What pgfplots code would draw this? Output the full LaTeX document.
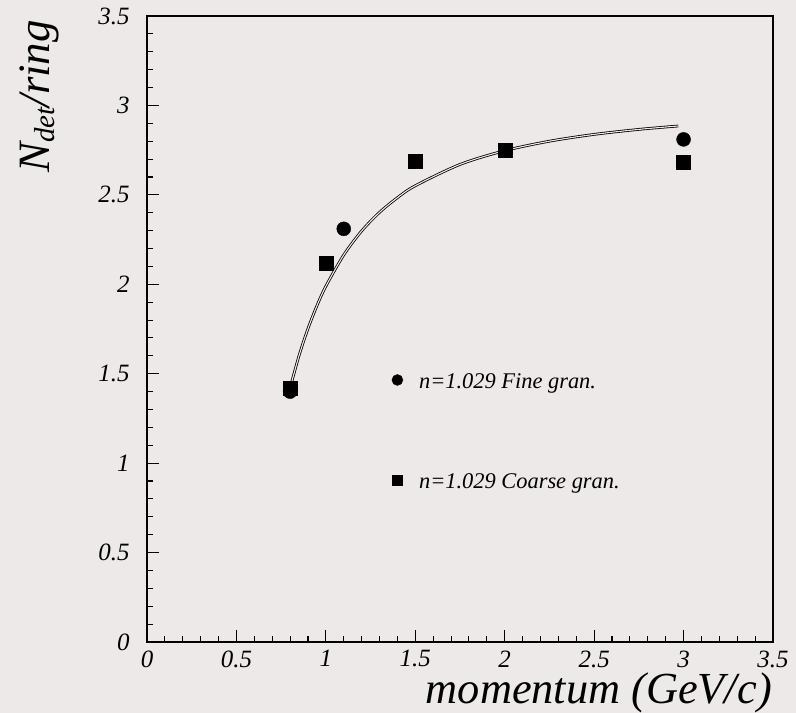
\documentclass[border=0pt]{standalone}
\usepackage{fontspec}
\setmainfont{Liberation Serif}
\usepackage{pgfplots}
\pgfplotsset{compat=1.18}
\definecolor{bg}{RGB}{236,233,232}

% fitted saturation curve N = A (1 - c/p^2), tabulated
\begin{document}
\begin{tikzpicture}
\fill[bg] (-147bp,-71bp) rectangle (649bp,642bp);
\begin{axis}[
  at={(0,0)}, anchor=south west,
  scale only axis, width=626bp, height=626bp,
  xmin=0, xmax=3.5, ymin=0, ymax=3.5,
  xtick={0,0.5,1,1.5,2,2.5,3,3.5},
  ytick={0,0.5,1,1.5,2,2.5,3,3.5},
  minor tick num=4,
  tick pos=left, tick align=inside,
  major tick length=12bp, minor tick length=6bp,
  axis line style={line width=1.6bp},
  every tick/.style={line width=1.1bp, black},
  ticklabel style={font=\fontsize{25}{30}\selectfont\itshape},
  /pgf/number format/assume math mode=true,
  xticklabel style={yshift=-5bp},
  yticklabel style={xshift=-14bp},
  clip=false,
]
% fit curve
\addplot[black, line width=0.8bp, double=bg, double distance=1.1bp, smooth]
  coordinates {
  (0.80,1.420) (0.85,1.601) (0.90,1.752) (0.95,1.880) (1.00,1.989)
  (1.10,2.164) (1.20,2.298) (1.30,2.402) (1.40,2.484) (1.50,2.551)
  (1.75,2.670) (2.00,2.747) (2.25,2.800) (2.50,2.838) (2.75,2.866)
  (2.97,2.885)};
% fine granularity
\addplot[only marks, mark=*, mark size=7bp, black]
  coordinates {(0.80,1.40) (1.10,2.31) (3.00,2.81)};
% coarse granularity
\addplot[only marks, mark=square*, mark size=7bp, black]
  coordinates {(0.80,1.42) (1.00,2.12) (1.50,2.69) (2.00,2.75) (3.00,2.68)};
% key
\addplot[only marks, mark=*, mark size=5.5bp, black] coordinates {(1.40,1.465)};
\addplot[only marks, mark=square*, mark size=5bp, black] coordinates {(1.40,0.906)};
\node[anchor=base west, inner sep=0, font=\fontsize{22.5}{27}\selectfont\itshape]
  at (axis cs:1.52,1.42) {n=1.029 Fine gran.};
\node[anchor=base west, inner sep=0, font=\fontsize{22.5}{27}\selectfont\itshape]
  at (axis cs:1.52,0.861) {n=1.029 Coarse gran.};
\end{axis}
\node[anchor=base east, inner sep=0, font=\fontsize{44.5}{50}\selectfont\itshape]
  at (625bp,-61bp) {momentum (GeV/c)};
\node[rotate=90, anchor=base east, inner sep=0, font=\fontsize{45}{50}\selectfont\itshape]
  at (-97bp,622bp) {N\raisebox{-0.2ex}{\fontsize{29}{34}\selectfont det}/ring};
\end{tikzpicture}
\end{document}
